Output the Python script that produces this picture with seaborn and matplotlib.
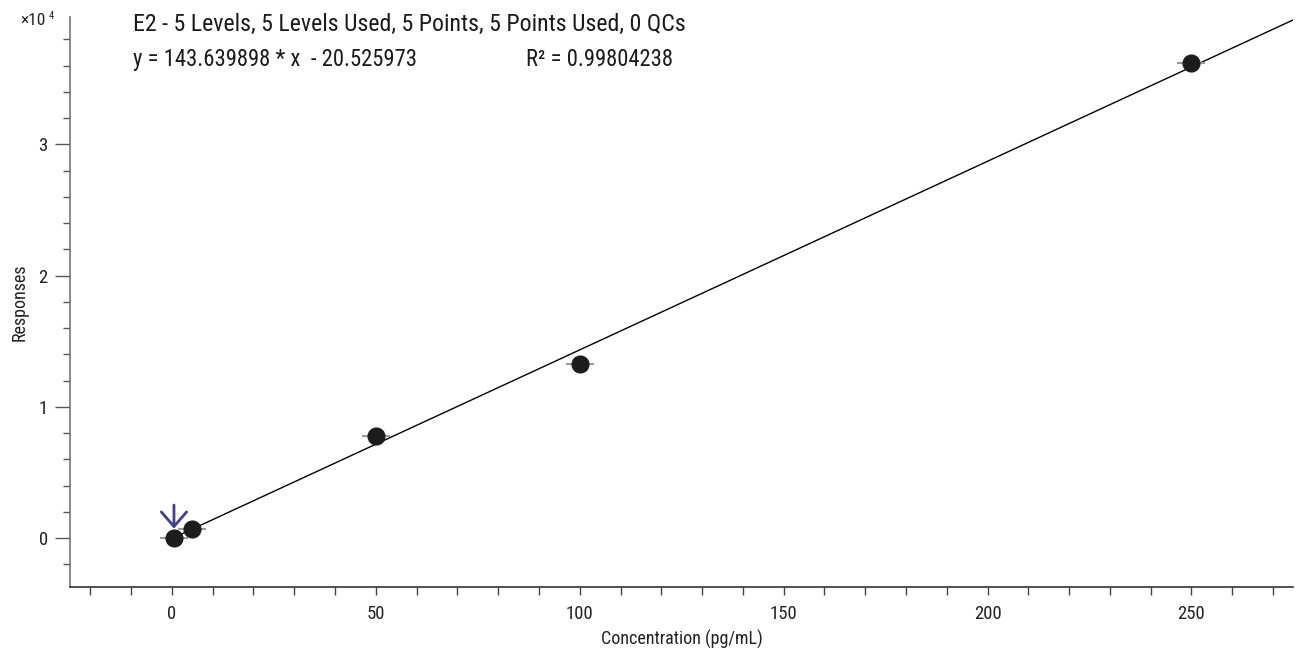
import numpy as np
import pandas as pd
import matplotlib.pyplot as plt
import seaborn as sns
from matplotlib.ticker import MultipleLocator, FuncFormatter
from matplotlib import font_manager

# Calibration data
conc = [0.5, 5, 50, 100, 250]
responses = [30, 720, 7780, 13300, 36180]

slope = 143.639898
intercept = -20.525973
r2 = 0.99804238
title = "E2 - 5 Levels, 5 Levels Used, 5 Points, 5 Points Used, 0 QCs"

sns.set_theme(style="white")
names = {f.name for f in font_manager.fontManager.ttflist}
fam = next((n for n in ["Roboto Condensed", "Archivo Narrow", "Barlow Semi Condensed",
                        "Liberation Sans Narrow"] if n in names), "DejaVu Sans")
plt.rcParams['font.family'] = [fam, 'DejaVu Sans']

fig = plt.figure(figsize=(12.96, 6.51), dpi=100)
ax = fig.add_axes([0.054, 0.098, 0.944, 0.876])

df = pd.DataFrame({"conc": conc, "resp": responses})

# fit line
x_fit = np.array([conc[0], 275])
fit = pd.DataFrame({"conc": x_fit, "resp": slope * x_fit + intercept})
sns.lineplot(data=fit, x="conc", y="resp", color="black", linewidth=1.0, ax=ax, zorder=2)

# expected-level dashes and points
ax.scatter(df["conc"], df["resp"], marker="_", s=400, color="#999999", linewidths=1.5, zorder=3)
sns.scatterplot(data=df, x="conc", y="resp", s=150, color="#1c1c1c", edgecolor="#1c1c1c",
                linewidth=0.8, ax=ax, zorder=4)

# arrow over first level
ax.annotate("", xy=(conc[0], responses[0] + 700), xytext=(conc[0], responses[0] + 2500),
            arrowprops=dict(arrowstyle="->,head_width=0.65,head_length=0.75", color="#3f3f8f",
                            lw=2, mutation_scale=14, shrinkA=0, shrinkB=0),
            zorder=5)

ax.set_xlim(-25, 275)
ax.set_ylim(-3730, 39700)

ax.xaxis.set_major_locator(MultipleLocator(50))
ax.xaxis.set_minor_locator(MultipleLocator(10))
ax.yaxis.set_major_locator(MultipleLocator(10000))
ax.yaxis.set_minor_locator(MultipleLocator(2000))
ax.yaxis.set_major_formatter(FuncFormatter(lambda v, p: f"{v / 10000:g}"))

ax.tick_params(axis="x", which="both", bottom=True, direction="out", length=6, width=1,
               color="#444444", labelsize=13.5, pad=7, labelcolor="#222222")
ax.tick_params(axis="y", which="major", left=True, direction="out", length=11, width=1,
               color="#555555", labelsize=13.5, pad=5, labelcolor="#222222")
ax.tick_params(axis="y", which="minor", left=True, direction="out", length=5, width=1,
               color="#555555")

for side in ["top", "right"]:
    ax.spines[side].set_visible(False)
ax.spines["left"].set_color("#777777")
ax.spines["bottom"].set_color("#333333")
ax.spines["left"].set_linewidth(1.2)
ax.spines["bottom"].set_linewidth(1.2)

ax.set_xlabel("Concentration (pg/mL)", fontsize=13, color="#222222")
ax.set_ylabel("Responses", fontsize=13, color="#222222")
ax.xaxis.set_label_coords(0.5, -0.075)
ax.yaxis.set_label_coords(-0.034, 0.5)

fig.text(0.0154, 0.969, "×10", fontsize=12.5, color="#222222", ha="left", va="center")
fig.text(0.0375, 0.976, "4", fontsize=7.5, color="#222222", ha="left", va="center")
fig.text(0.103, 0.962, title, fontsize=17.2, color="#1a1a1a", ha="left", va="center")
fig.text(0.103, 0.908, f"y = {slope:.6f} * x  - {abs(intercept):.6f}", fontsize=16.3,
         color="#1a1a1a", ha="left", va="center")
fig.text(0.406, 0.908, f"R² = {r2:.8f}", fontsize=16.3, color="#1a1a1a", ha="left", va="center")

fig.savefig("out.png", dpi=100)
